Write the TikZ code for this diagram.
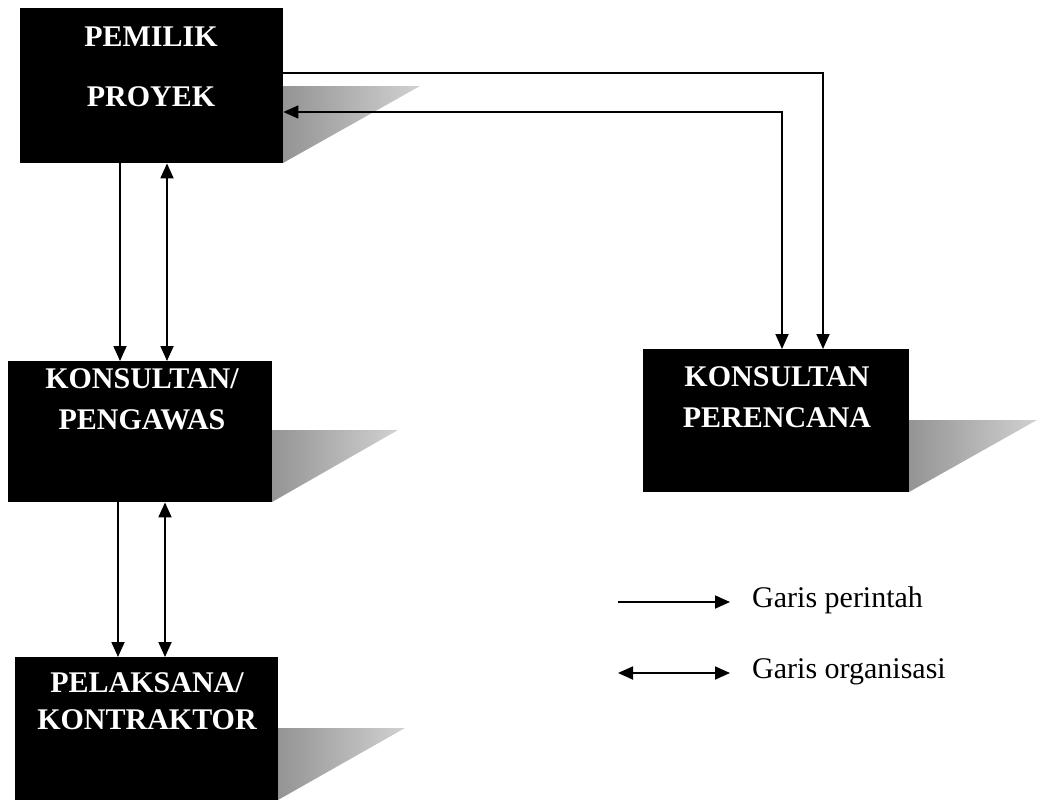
\documentclass[tikz,border=0pt]{standalone}
\usepackage{fontspec}
\setmainfont{Liberation Serif}
\usetikzlibrary{arrows.meta,calc}
\begin{document}
\begin{tikzpicture}[x=1pt,y=-1pt,
  box/.style={fill=black,draw=none,inner sep=0pt,anchor=north west},
  lbl/.style={text=white,align=center,inner sep=0pt},
  shadowtri/.style={left color=black!42,right color=black!18,draw=none},
  cmd/.style={line width=1.8pt,-{Triangle[length=15pt,width=13pt]}},
  org/.style={line width=1.8pt,{Triangle[length=15pt,width=13pt]}-{Triangle[length=15pt,width=13pt]}},
  legtxt/.style={font=\fontsize{30}{36}\selectfont,anchor=base west,inner sep=0pt}]
\useasboundingbox (0,0) rectangle (1044,800);
% shadows
\shade[shadowtri] (283,86) -- (420,86) -- (283,163) -- cycle;
\shade[shadowtri] (272,430) -- (398,430) -- (272,502) -- cycle;
\shade[shadowtri] (909,420) -- (1037,420) -- (909,492) -- cycle;
\shade[shadowtri] (278,728) -- (405,728) -- (278,800) -- cycle;
% boxes
\node[box,minimum width=263pt,minimum height=155pt] (pp) at (20,8) {};
\node[box,minimum width=264pt,minimum height=141pt] (kpw) at (8,361) {};
\node[box,minimum width=266pt,minimum height=143pt] (kp) at (643,349) {};
\node[box,minimum width=263pt,minimum height=145pt] (pk) at (15,657) {};
% labels
\node[lbl,font=\bfseries\fontsize{30}{60}\selectfont] (tpp) at (151,67) {PEMILIK\\PROYEK};
\node[lbl,font=\bfseries\fontsize{30}{41}\selectfont] (tkpw) at (142,399) {KONSULTAN/\\PENGAWAS};
\node[lbl,font=\bfseries\fontsize{30}{41}\selectfont] (tkp) at (777,397) {KONSULTAN\\PERENCANA};
\node[lbl,font=\bfseries\fontsize{30}{37}\selectfont] (tpk) at (147,701) {PELAKSANA/\\KONTRAKTOR};
% connectors
\coordinate (v1) at (120,0);
\coordinate (v2) at (167,0);
\coordinate (v3) at (118,0);
\coordinate (v4) at (165,0);
\coordinate (c1) at (823,73);
\coordinate (c2) at (782,112);
\draw[cmd] (pp.south -| v1) -- (kpw.north -| v1);
\draw[org] (pp.south -| v2) -- (kpw.north -| v2);
\draw[cmd] (kpw.south -| v3) -- (pk.north -| v3);
\draw[org] (kpw.south -| v4) -- (pk.north -| v4);
\draw[cmd] (pp.east |- c1) -| (kp.north -| c1);
\draw[org] (pp.east |- c2) -| (kp.north -| c2);
% legend
\coordinate (l1a) at (618,602);
\coordinate (l1b) at (730,602);
\coordinate (l2a) at (618,673);
\coordinate (l2b) at (730,673);
\draw[cmd] (l1a) -- (l1b);
\draw[org] (l2a) -- (l2b);
\node[legtxt] (lt1) at (752,607) {Garis perintah};
\node[legtxt] (lt2) at (752,678) {Garis organisasi};
\end{tikzpicture}
\end{document}
